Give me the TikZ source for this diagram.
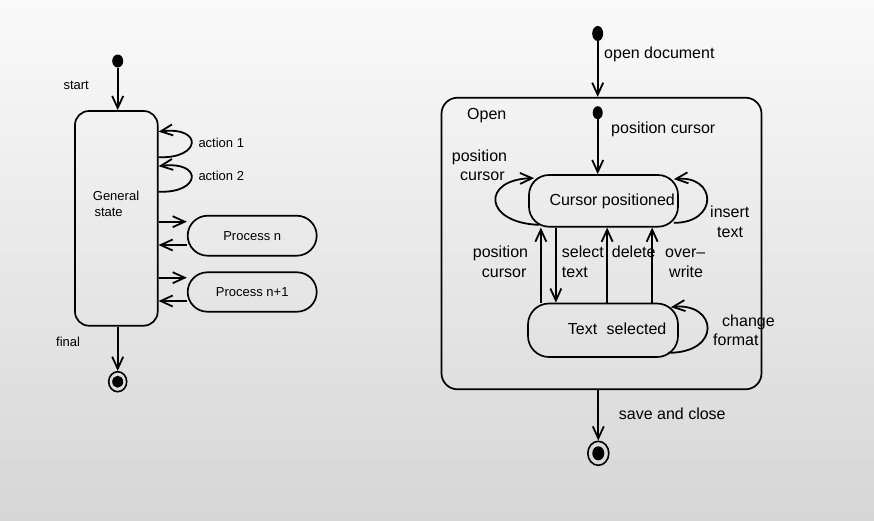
\documentclass[tikz,border=0pt]{standalone}
\usepackage{fontspec}
\setmainfont{Liberation Sans}
\usetikzlibrary{arrows.meta,calc,shapes.geometric}
\begin{document}
\begin{tikzpicture}[x=1pt,y=-1pt,
  arr/.style={-{Straight Barb[length=12pt,width=11pt]}, line width=1.8pt},
  stbox/.style={draw, rectangle, rounded corners=#1, inner sep=0pt, line width=1.7pt},
  stbox/.default=20pt,
  initdot/.style={ellipse, fill=black, inner sep=0pt},
  finout/.style={ellipse, draw, line width=1.6pt, inner sep=0pt},
  finin/.style={ellipse, fill=black, inner sep=0pt},
  lbl/.style={anchor=base west, inner sep=0pt},
  big/.style={font=\fontsize{16}{19}\selectfont},
  small/.style={font=\fontsize{13}{16}\selectfont},
]
\shade[top color=white!98!black, bottom color=white!84!black] (0,0) rectangle (874,520);
\path[use as bounding box] (0,0) rectangle (874,520);

% ---------------- left diagram ----------------
\node[initdot, minimum width=11pt, minimum height=13pt] (i1) at (117.7,61) {};
\node[stbox=14pt, minimum width=82.7pt, minimum height=214.7pt] (gs) at (116.35,218.35) {};
\node[small,lbl] (gst1) at (92.7,200.7) {General};
\node[small,lbl] (gst2) at (94.3,216.7) {state};
\node[small,lbl] (tstart) at (63.3,89.3) {start};
\node[small,lbl] (tfinal) at (56,346.7) {final};
\node[finout, minimum width=18pt, minimum height=20pt] (f1) at (117.7,381.7) {};
\node[finin, minimum width=11pt, minimum height=12pt] (f1c) at (f1) {};
\draw[arr] (i1) -- (i1 |- gs.north);
\draw[arr] (f1 |- gs.south) -- (f1);

\draw[arr] ($(gs.north east)+(0,47)$) .. controls ($(gs.north east)+(42.3,49)$) and ($(gs.north east)+(45.3,16)$) .. ($(gs.north east)+(0,21.5)$);
\draw[arr] ($(gs.north east)+(0,81.5)$) .. controls ($(gs.north east)+(42.3,83.5)$) and ($(gs.north east)+(45.3,50.5)$) .. ($(gs.north east)+(0,56)$);
\node[small,lbl] (ta1) at (198.3,147.3) {action 1};
\node[small,lbl] (ta2) at (198.3,180) {action 2};

\node[stbox=20pt, minimum width=129pt, minimum height=40pt, small] (pn) at (252.2,235.7) {Process n};
\node[stbox=19.7pt, minimum width=129pt, minimum height=39.4pt, small] (pn1) at (252.2,292) {Process n+1};
\coordinate (pa1) at ($(pn.west)+(0,-14)$);
\coordinate (pb1) at ($(pn.west)+(0,9.3)$);
\coordinate (pa2) at ($(pn1.west)+(0,-14.3)$);
\coordinate (pb2) at ($(pn1.west)+(0,9)$);
\draw[arr] (gs.east |- pa1) -- (pa1);
\draw[arr] (pb1) -- (gs.east |- pb1);
\draw[arr] (gs.east |- pa2) -- (pa2);
\draw[arr] (pb2) -- (gs.east |- pb2);

% ---------------- right diagram ----------------
\node[initdot, minimum width=11pt, minimum height=15pt] (i2) at (597.7,33.5) {};
\node[stbox=16pt, minimum width=320pt, minimum height=291.6pt] (open) at (601.5,243.5) {};
\node[big,lbl] (topen) at (467,119.5) {Open};
\node[big,lbl] (todoc) at (604,58.3) {open document};
\draw[arr] (i2) -- (i2 |- open.north);

\node[initdot, minimum width=10pt, minimum height=13pt] (i3) at (597.7,112.7) {};
\node[big,lbl] (tpc1) at (611,133) {position cursor};
\node[stbox=20pt, minimum width=149pt, minimum height=51.7pt] (cp) at (603.5,200.85) {};
\node[big,lbl] (tcp) at (549.3,205.2) {Cursor positioned};
\draw[arr] (i3) -- (i3 |- cp.north);

\node[stbox=21pt, minimum width=150pt, minimum height=53.5pt] (ts) at (603,330.25) {};
\node[big,lbl] (tts) at (567.7,334.3) {Text\hspace{9.5pt}selected};

\draw[arr] ($(ts.north west)+(13.7,0)$) -- ($(cp.south west)+(12.7,0)$);
\draw[arr] ($(cp.south west)+(27.7,0)$) -- ($(ts.north west)+(28.7,0)$);
\draw[arr] ($(ts.north west)+(80,0)$) -- ($(cp.south west)+(79,0)$);
\draw[arr] ($(ts.north west)+(125,0)$) -- ($(cp.south west)+(124,0)$);

\draw[arr] ($(cp.south west)+(11,-2.7)$) .. controls ($(cp.south west)+(-45,-4.7)$) and ($(cp.north west)+(-47,5)$) .. ($(cp.north west)+(6,4)$);
\draw[arr] ($(cp.south east)+(-5,-4.7)$) .. controls ($(cp.south east)+(40,-4.7)$) and ($(cp.north east)+(38,1)$) .. ($(cp.north east)+(-5,5)$);
\draw[arr] ($(ts.south east)+(-11,-5)$) .. controls ($(ts.south east)+(44,-5)$) and ($(ts.north east)+(38,-0.5)$) .. ($(ts.north east)+(-8,4.5)$);

\node[big,lbl] (tl1) at (451.7,161.7) {position};
\node[big,lbl] (tl2) at (460,180) {cursor};
\node[big,lbl] (tr1) at (710,217.7) {insert};
\node[big,lbl] (tr2) at (717,237.7) {text};
\node[big,lbl] (tv1) at (472.7,257.7) {position};
\node[big,lbl] (tv2) at (481.7,277.7) {cursor};
\node[big,lbl] (tv3) at (561.7,257.7) {select};
\node[big,lbl] (tv4) at (561.7,277.7) {text};
\node[big,lbl] (tv5) at (611.7,257.7) {delete};
\node[big,lbl] (tv6) at (665,257.7) {over–};
\node[big,lbl] (tv7) at (669,277.7) {write};
\node[big,lbl] (tcf1) at (722,326) {change};
\node[big,lbl] (tcf2) at (713,345) {format};

\node[finout, minimum width=21pt, minimum height=24pt] (f2) at (598.3,453.3) {};
\node[finin, minimum width=12pt, minimum height=14pt] (f2c) at (f2) {};
\draw[arr] (f2 |- open.south) -- (f2);
\node[big,lbl] (tsc) at (618.7,419.3) {save and close};
\end{tikzpicture}
\end{document}
